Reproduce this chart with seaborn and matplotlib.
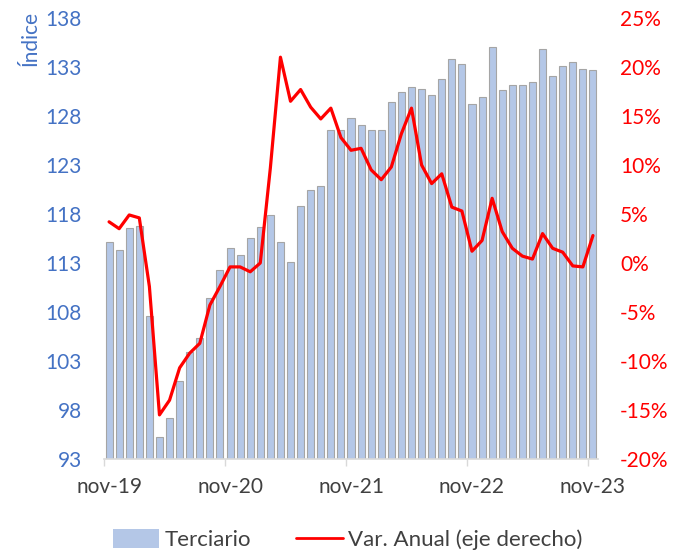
import numpy as np
import pandas as pd
import seaborn as sns
import matplotlib.pyplot as plt
from matplotlib.patches import Patch
from matplotlib.lines import Line2D

# monthly data, nov-19 .. nov-23
meses = pd.date_range("2019-11-01", "2023-11-01", freq="MS")
terciario = [115.1, 114.3, 116.6, 116.8, 107.6, 95.2, 97.2, 101.0, 103.9, 105.3,
             109.4, 112.3, 114.5, 113.8, 115.6, 116.7, 117.9, 115.1, 113.1, 118.8,
             120.4, 120.9, 126.6, 126.6, 127.8, 127.1, 126.6, 126.6, 129.4, 130.4,
             131.0, 130.8, 130.1, 131.8, 133.8, 133.3, 129.2, 129.9, 135.0, 130.7,
             131.2, 131.2, 131.5, 134.8, 132.1, 133.1, 133.5, 132.8, 132.7]
var_anual = [4.2, 3.5, 4.9, 4.6, -2.4, -15.5, -14.0, -10.7, -9.2, -8.2,
             -4.3, -2.4, -0.4, -0.4, -0.9, 0.0, 9.7, 21.0, 16.5, 17.7,
             15.9, 14.7, 15.8, 12.8, 11.5, 11.7, 9.5, 8.5, 9.8, 13.2,
             15.8, 10.0, 8.1, 9.1, 5.7, 5.3, 1.2, 2.3, 6.6, 3.2,
             1.5, 0.7, 0.4, 3.0, 1.5, 1.1, -0.3, -0.4, 2.8]
tick_labels = ["nov-19", "nov-20", "nov-21", "nov-22", "nov-23"]

df = pd.DataFrame({"pos": np.arange(len(meses)), "terciario": terciario,
                   "var": var_anual})

sns.set_style("white")
plt.rcParams["font.family"] = ["Lato", "DejaVu Sans"]

blue_txt = "#4472C4"
bar_col = "#B4C7E7"
red = "#FF0000"

fig = plt.figure(figsize=(6.79, 5.5), dpi=100)
ax = fig.add_axes([0.1532, 0.1655, 0.7275, 0.8018])

sns.barplot(data=df, x="pos", y="terciario", native_scale=True, color=bar_col,
            saturation=1, width=0.7, edgecolor="#A5A5A5", linewidth=0.8, ax=ax)
ax.set_ylim(93, 138)
ax.set_yticks(np.arange(93, 139, 5))
ax.set_xlim(-0.5, len(meses) - 0.5)
ax.set_xticks(np.arange(0, 49, 12) - 0.5)
ax.set_xticklabels([])
ax.set_xticks(np.arange(0, 49, 12), minor=True)
ax.set_xticklabels(tick_labels, minor=True)
ax.tick_params(axis="x", which="major", length=5, width=1, color="#D9D9D9", bottom=True)
ax.tick_params(axis="x", which="minor", length=0, pad=13, labelsize=15, labelcolor="#404040")
ax.tick_params(axis="y", length=0, pad=16, labelsize=15, labelcolor=blue_txt)
ax.set_xlabel("")
ax.set_ylabel("")
for s in ["top", "right", "left"]:
    ax.spines[s].set_visible(False)
ax.spines["bottom"].set_color("#D9D9D9")
ax.spines["bottom"].set_linewidth(1.2)

ax2 = ax.twinx()
sns.lineplot(data=df, x="pos", y="var", color=red, linewidth=2.3, ax=ax2)
ax2.set_ylim(-20, 25)
ax2.set_yticks(np.arange(-20, 26, 5))
ax2.set_yticklabels([f"{v}%" for v in range(-20, 26, 5)])
ax2.tick_params(axis="y", length=0, pad=16, labelsize=15, labelcolor=red)
ax2.set_ylabel("")
for s in ["top", "right", "left", "bottom"]:
    ax2.spines[s].set_visible(False)

fig.text(0.045, 0.98, "Índice", rotation=90, va="top", ha="center",
         fontsize=15, color=blue_txt)

handles = [Patch(facecolor=bar_col, edgecolor="none"),
           Line2D([0], [0], color=red, linewidth=2)]
fig.legend(handles, ["Terciario", "Var. Anual (eje derecho)"], loc="lower center",
           bbox_to_anchor=(0.512, -0.037), ncol=2, frameon=False, fontsize=16,
           handlelength=2.1, handleheight=0.9, columnspacing=2.0, handletextpad=0.25,
           labelcolor="#404040")

fig.savefig("out.png", dpi=100)
